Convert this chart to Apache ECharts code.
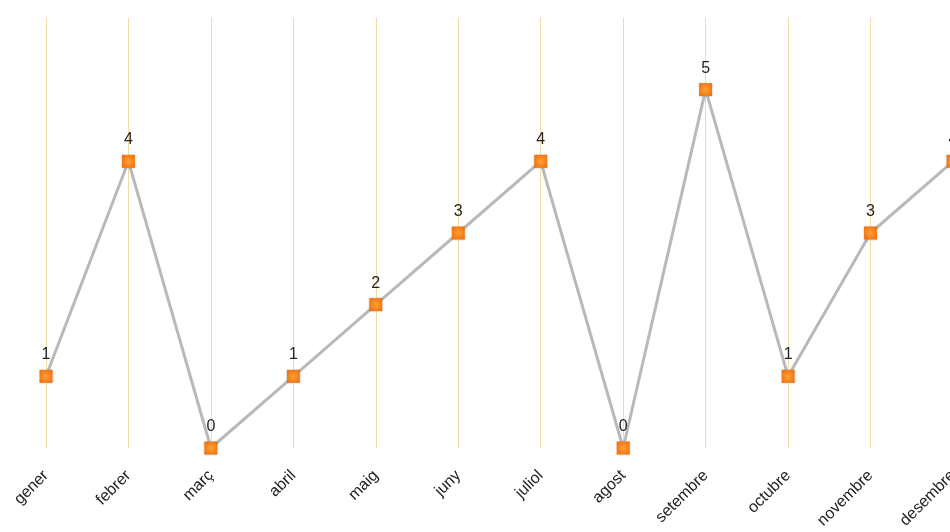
<!DOCTYPE html>
<html><head><meta charset="utf-8">
<script src="https://cdn.jsdelivr.net/npm/echarts@6/dist/echarts.min.js"></script>
<style>html,body{margin:0;padding:0;background:#fff;overflow:hidden;width:950px;height:532px}#c{width:970px;height:532px}</style>
</head><body><div id="c"></div>
<script>
const categories = ['gener','febrer','març','abril','maig','juny','juliol','agost','setembre','octubre','novembre','desembre'];
const values = [1,4,0,1,2,3,4,0,5,1,3,4];

const chart = echarts.init(document.getElementById('c'));
chart.setOption({
  animation: false,
  backgroundColor: '#ffffff',
  grid: { left: 46, top: 18, width: 907, bottom: 84, containLabel: false },
  xAxis: {
    type: 'category', data: categories, boundaryGap: false,
    axisLine: { show: false }, axisTick: { show: false },
    splitLine: { show: true, lineStyle: { color: '#f0dca8', width: 1 } },
    axisLabel: { rotate: 45, margin: 25, fontSize: 16, color: '#222', fontFamily: 'Liberation Sans, Arial, sans-serif' }
  },
  yAxis: { type: 'value', min: 0, max: 6, interval: 1, show: false, splitLine: { show: false } },
  series: [{
    type: 'line', data: values,
    symbol: 'rect', symbolSize: 13,
    lineStyle: { color: '#b9b9b9', width: 3 },
    itemStyle: {
      color: new echarts.graphic.RadialGradient(0.5, 0.5, 0.7, [
        { offset: 0, color: '#ffa033' }, { offset: 1, color: '#ec6a0c' }
      ]),
      shadowColor: 'rgba(0,0,0,0.2)', shadowBlur: 2
    },
    label: { show: true, position: 'top', distance: 7, fontSize: 16, color: '#222', fontFamily: 'Liberation Sans, Arial, sans-serif' },
    z: 3
  }]
});
</script></body></html>
